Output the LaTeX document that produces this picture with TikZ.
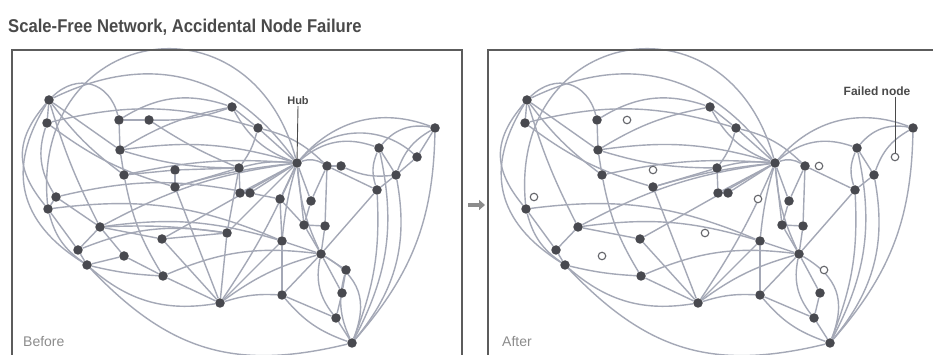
\documentclass[tikz,border=0pt]{standalone}
\usepackage{fontspec}
\setmainfont{Liberation Sans}
\newfontfamily\condfont[FakeStretch=0.9]{Liberation Sans}
\usetikzlibrary{backgrounds,arrows.meta}
\definecolor{edgec}{HTML}{A4A8B6}
\definecolor{dotc}{HTML}{48494F}
\definecolor{framec}{HTML}{5C5C5C}
\definecolor{textc}{HTML}{4A4A4A}
\definecolor{labc}{HTML}{8C8C8C}

\newcommand\netnodes{A/49/100, B/47/123, C/119/120, D/149/120, E/232/107, G/258/128,
 H/120/150, I/124/175, J/175/170, K/175/187, L/239/168, Hub/297/163, M/327/166,
 N/341/166, O/379/148, P/417/157, Q/435/128, R/396/175, S/240/193, T/250/193,
 U/280/199, V/311/201, W/377/190, X/56/197, Y/48/209, Z/100/227, AA/162/239,
 AB/227/233, AC/78/250, AD/124/256, AE/87/265, AF/163/276, AG/220/303, AH/304/225,
 AI/325/226, AJ/282/241, AK/321/254, AL/346/270, AM/342/293, AN/282/295, AO/336/318,
 AP/352/343}
\newcommand\failednodes{D,J,N,P,U,X,AB,AD,AL}
\newcommand\netedges{Y/Hub/85/1.8, A/Hub/40/1.1, A/C/60/1.3, C/E/25/1, B/G/15/1, H/E/10/1,
 E/Hub/-20/1, G/Hub/0/1, L/Hub/10/1, H/Hub/12/1, I/Hub/8/1, K/Hub/5/1, S/Hub/0/1,
 T/Hub/0/1, Hub/M/25/1, Hub/O/30/1, Hub/Q/35/1, Hub/P/45/1, Hub/AH/0/1, Hub/AJ/-5/1, Hub/U/0/1,
 Hub/V/0/1, Hub/AG/5/1, Hub/AB/0/1, Hub/AK/-10/1, Hub/Z/-10/1, Hub/AA/0/1,
 A/B/0/1, A/H/0/1, A/I/-8/1, A/Z/-5/1, A/Y/-40/1.2, A/AE/-45/1.2, B/X/-25/1, B/K/-10/1,
 C/D/0/1, C/H/0/1, D/E/-10/1, D/L/-5/1, H/I/0/1, H/L/-8/1, I/J/0/1, I/AF/-10/1,
 J/K/0/1, J/L/0/1, K/L/0/1, K/AG/0/1, E/G/0/1, G/L/10/1, G/M/15/1,
 M/N/0/1, N/R/-15/1, O/Q/30/1, O/R/0/1, Q/P/0/1, Q/R/-20/1, P/R/0/1, O/W/-20/1,
 W/R/0/1, W/M/0/1, W/AK/0/1, R/AP/25/1, Q/AP/20/1, O/AP/20/1, W/AP/12/1,
 AH/AI/0/1, AH/AK/0/1, AI/AK/0/1, AI/M/0/1, AJ/AK/0/1, AK/AL/0/1, AK/AM/0/1,
 AK/AP/40/1.2, AL/AM/0/1, AL/AP/-20/1, AK/AO/-25/1, AN/AO/0/1, AN/AK/0/1, AN/AP/-15/1,
 AO/AP/0/1, AM/AO/0/1, AJ/AN/0/1, U/AJ/0/1, U/AH/0/1, V/AH/0/1, V/M/0/1, S/T/0/1,
 T/U/0/1, S/L/0/1, X/Y/0/1, X/Z/0/1, X/T/12/1, Y/AC/0/1, Y/AE/-20/1, Y/AJ/15/1,
 Z/AA/0/1, Z/AC/0/1, Z/AD/0/1, Z/AJ/12/1, AC/AE/0/1, AC/AB/15/1, AD/AE/0/1, AD/AF/0/1,
 AE/AF/-5/1, AE/AG/-25/1, AE/AP/-30/1.1, AF/AG/0/1, AA/AG/0/1, AA/AB/0/1, AB/AG/0/1,
 AB/L/0/1, AG/AJ/0/1, AG/AN/10/1, AG/AK/10/1, AF/AK/15/1, Z/AB/5/1}

\begin{document}
\begin{tikzpicture}[x=1pt,y=1pt,
  dot/.style={circle,fill=dotc,inner sep=0pt,minimum size=9.5pt},
  hollow/.style={circle,draw=dotc!85,fill=white,line width=1.1pt,inner sep=0pt,minimum size=7.5pt},
  edge/.style={draw=edgec,line width=1.4pt},
  panel/.style={draw=framec,line width=1.3pt},
  pointer/.style={draw=textc,line width=0.9pt}]
\useasboundingbox (0,0) rectangle (933,355);
\foreach \f in \failednodes {\expandafter\gdef\csname nf@\f\endcsname{}}
% nodes, left panel (before)
\foreach \n/\x/\y in \netnodes {\node[dot] (l\n) at (\x,{355-\y}) {};}
% nodes, right panel (after)
\foreach \n/\x/\y in \netnodes {%
  \ifcsname nf@\n\endcsname
    \node[hollow] (r\n) at ({\x+478},{355-\y}) {};
  \else
    \node[dot] (r\n) at ({\x+478},{355-\y}) {};
  \fi}
\begin{pgfonlayer}{background}
\fill[white] (0,0) rectangle (933,355);
\foreach \a/\b/\bd/\lo in \netedges {%
  \draw[edge] (l\a) to[bend left=\bd, looseness=\lo] (l\b);
  \ifcsname nf@\a\endcsname\else\ifcsname nf@\b\endcsname\else
    \draw[edge] (r\a) to[bend left=\bd, looseness=\lo] (r\b);
  \fi\fi}
\end{pgfonlayer}
% frames
\draw[panel] (12,-5) -- (12,305) -- (462,305) -- (462,-5);
\draw[panel] (488,-5) -- (488,305) -- (940,305);
% arrow between panels
\draw[draw=labc,line width=4.5pt,-{Triangle[length=6pt,width=10pt]}] (468,150) -- (485,150);
% texts
\node[anchor=base west,inner sep=0pt,text=textc,font=\condfont\bfseries\fontsize{18.5}{20}\selectfont] (title) at (8,322) {Scale-Free Network, Accidental Node Failure};
\node[inner sep=1pt,text=textc,font=\bfseries\fontsize{11}{12}\selectfont] (hublab) at (298,254) {Hub};
\draw[pointer] (hublab.south) -- (lHub);
\node[inner sep=1pt,text=textc,font=\bfseries\fontsize{12}{13}\selectfont] (faillab) at (877,264) {Failed node};
\draw[pointer] (rP |- faillab.south) -- (rP);
\node[anchor=base west,inner sep=0pt,text=labc,font=\fontsize{14}{15}\selectfont] (before) at (23,8) {Before};
\node[anchor=base west,inner sep=0pt,text=labc,font=\fontsize{14}{15}\selectfont] (after) at (502,8) {After};
\end{tikzpicture}
\end{document}
